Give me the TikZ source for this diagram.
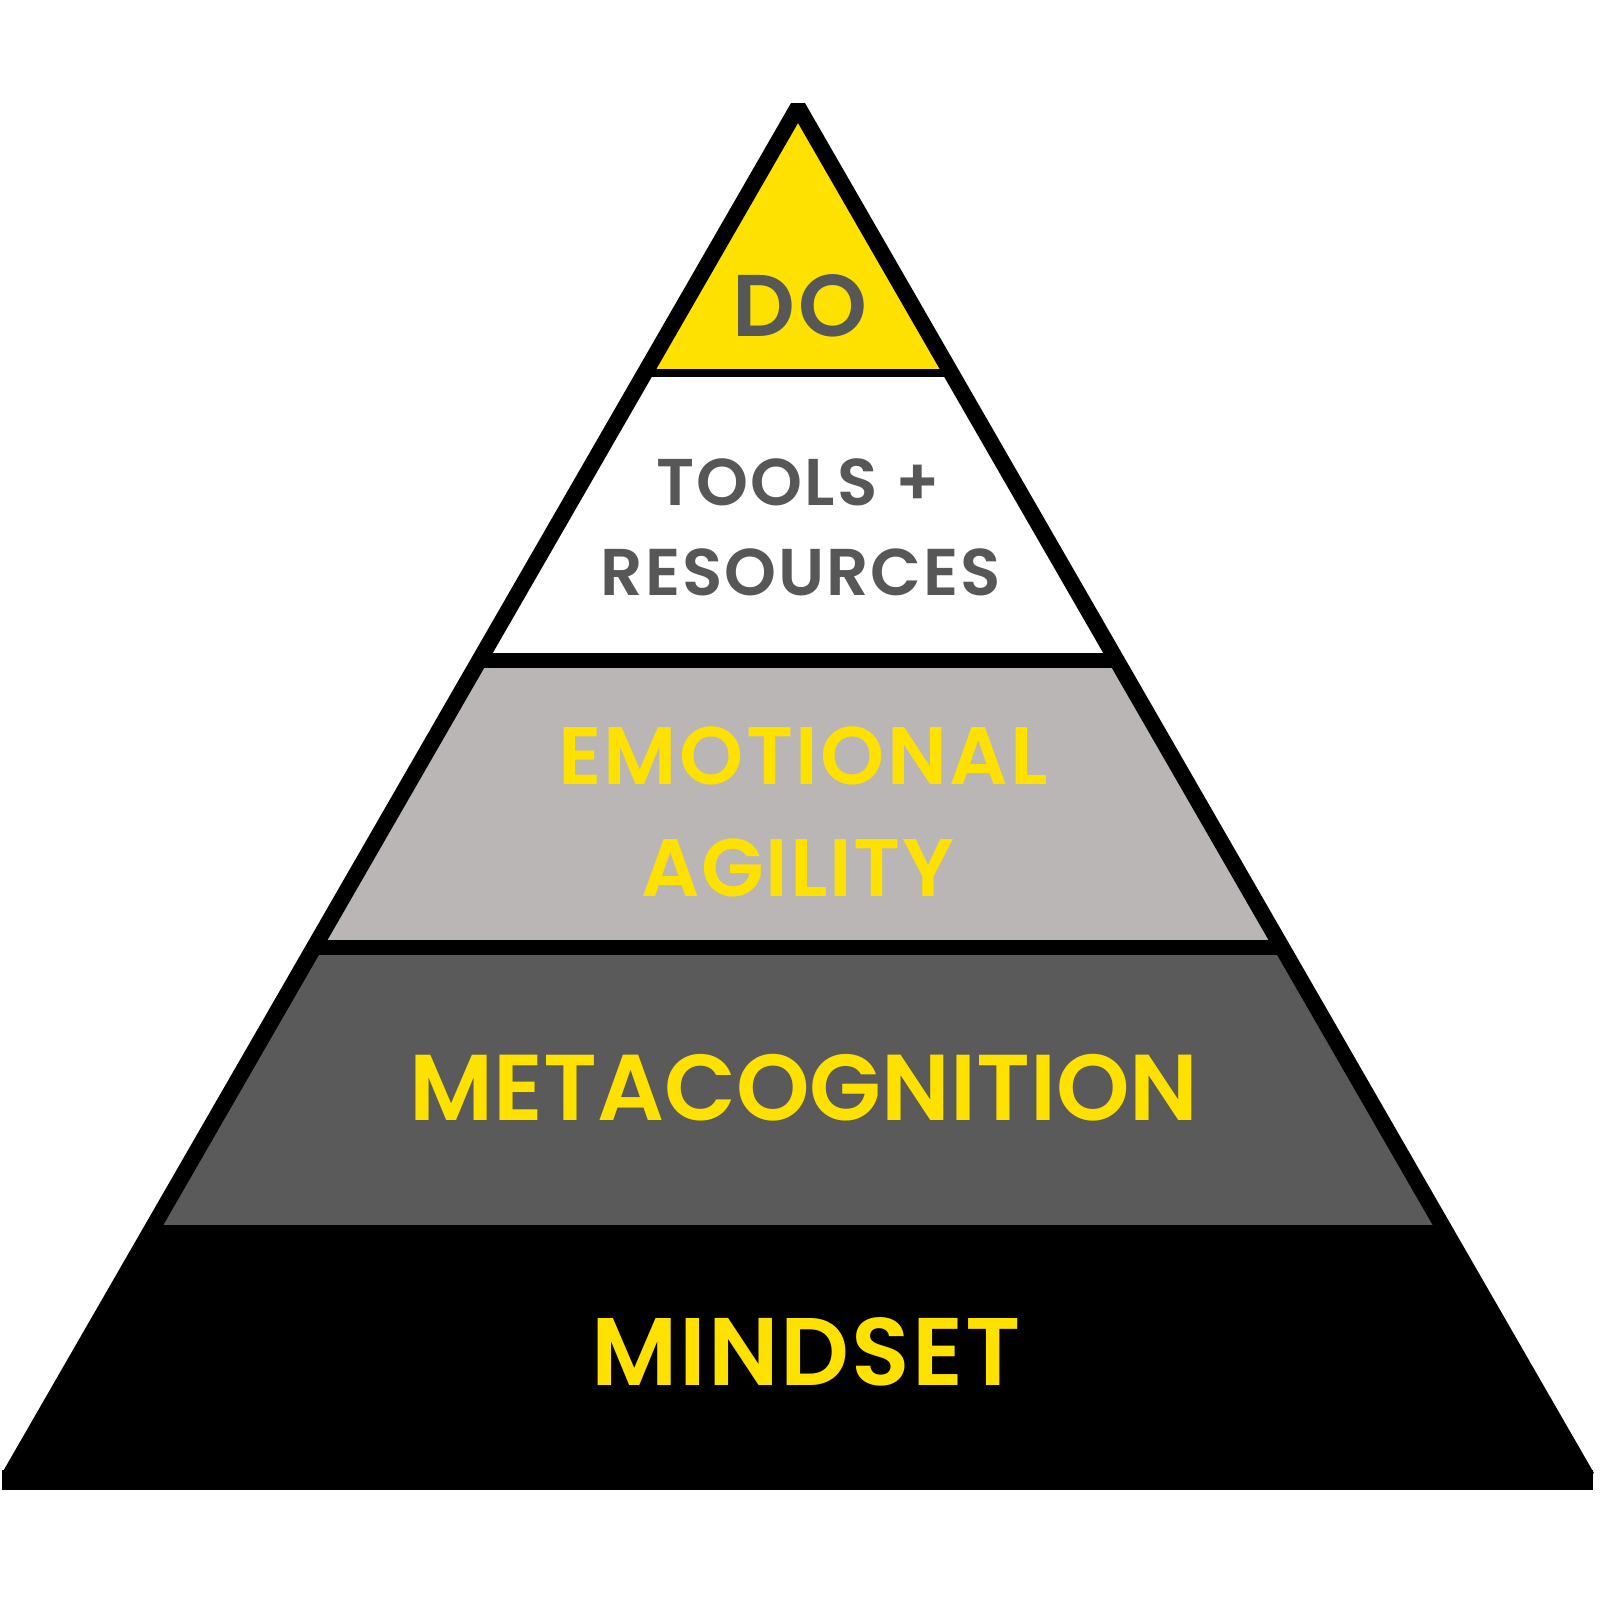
\documentclass[tikz,border=0pt]{standalone}
\usepackage{fontspec}
\setmainfont{Poppins}[BoldFont={Poppins SemiBold}]
\definecolor{pyellow}{HTML}{FFE100}
\definecolor{plight}{HTML}{BAB6B5}
\definecolor{pdark}{HTML}{5A5A5A}
\definecolor{ptext}{HTML}{575757}
\newcommand{\levelfont}[2]{\bfseries\fontsize{#1}{#1}\selectfont\addfontfeature{LetterSpace=#2}}
\begin{document}
\begin{tikzpicture}[x=0.01cm,y=-0.01cm,
  level/.style={inner sep=0pt, anchor=base},
  divider/.style={line width=#1}]
\useasboundingbox (0,0) rectangle (1600,1600);

\coordinate (top) at (798,107);
\coordinate (bl) at (9,1477);
\coordinate (br) at (1587,1477);

\begin{scope}
\clip (top)--(bl)--(br)--cycle;
\fill[pyellow] (0,0) rectangle (1600,373);
\fill[white] (0,373) rectangle (1600,660);
\fill[plight] (0,660) rectangle (1600,947);
\fill[pdark] (0,947) rectangle (1600,1225);
\fill[black] (0,1225) rectangle (1600,1500);
\draw[divider=8*0.2845pt] (0,373)--(1600,373);
\draw[divider=15*0.2845pt] (0,660)--(1600,660);
\draw[divider=15*0.2845pt] (0,947)--(1600,947);
\end{scope}
\fill[black] (2,1470) rectangle (1593,1490);
\draw[line width=16*0.2845pt, line join=bevel] (bl)--(top)--(br);

\node[level, font=\levelfont{24.9}{3}, text=ptext] (do) at (800,337) {DO};
\node[level, font=\levelfont{18.8}{3.2}, text=ptext] (tools) at (798,505) {TOOLS +};
\node[level, font=\levelfont{18.8}{3}, text=ptext] (resources) at (801,595) {RESOURCES};
\node[level, font=\levelfont{23.2}{3}, text=pyellow] (emotional) at (803,784) {EMOTIONAL};
\node[level, font=\levelfont{23.2}{2}, text=pyellow] (agility) at (798,896) {AGILITY};
\node[level, font=\levelfont{26.6}{0}, text=pyellow] (meta) at (804,1120) {METACOGNITION};
\node[level, font=\levelfont{27.3}{2}, text=pyellow] (mindset) at (806,1385) {MINDSET};
\end{tikzpicture}
\end{document}
